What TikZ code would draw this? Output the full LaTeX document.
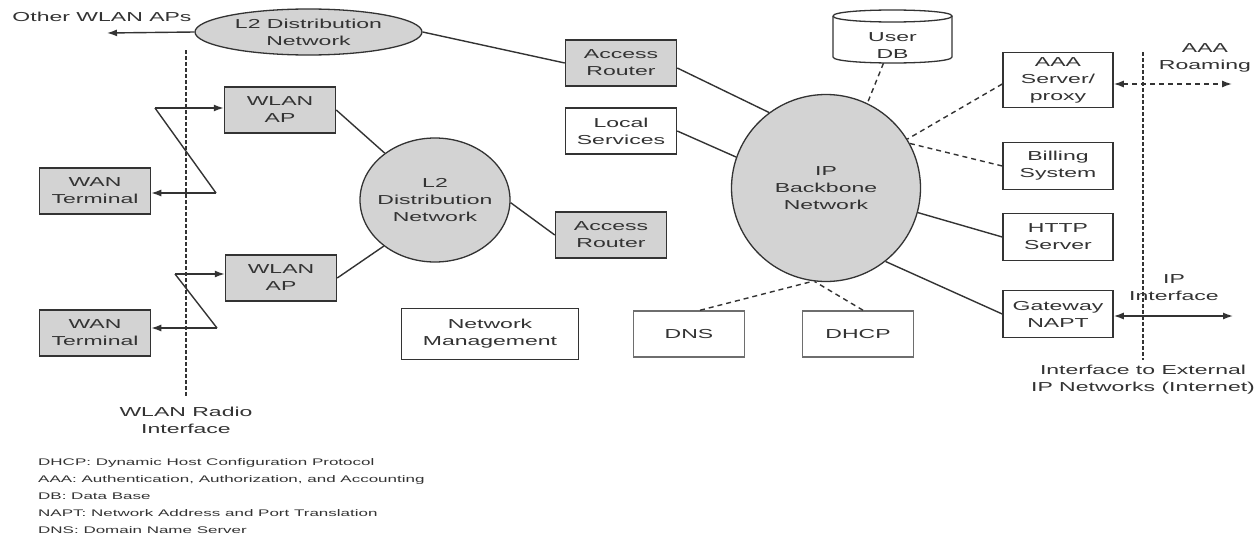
\documentclass[tikz,border=0pt]{standalone}
\usepackage{fontspec}
\setmainfont{Liberation Sans}[FakeStretch=1.77]
\usetikzlibrary{arrows.meta,calc,shapes.geometric}

\definecolor{ink}{HTML}{333333}
\definecolor{shade}{HTML}{D3D3D3}
\definecolor{softedge}{HTML}{6E6E6E}

\begin{document}
\begin{tikzpicture}[x=1pt,y=-1pt,
  every node/.style={text=ink, font=\fontsize{13}{17}\selectfont, align=center, inner sep=0pt},
  box/.style={draw=ink, line width=1.5pt, minimum width=111pt, minimum height=46pt},
  gbox/.style={box, fill=shade},
  lbox/.style={box, draw=softedge},
  cloud/.style={ellipse, draw=ink, line width=1.3pt, fill=shade},
  link/.style={draw=ink, line width=1.4pt},
  dlink/.style={link, dash pattern=on 5pt off 4pt},
  border/.style={draw=ink, line width=1.6pt, dash pattern=on 4pt off 2pt},
  tip/.style={-{Latex[length=10pt,width=7pt]}},
  tips/.style={{Latex[length=10pt,width=7pt]}-{Latex[length=10pt,width=7pt]}},
  caption/.style={font=\fontsize{13}{17}\selectfont},
  legend/.style={font=\fontsize{9.6}{17}\selectfont, align=left, anchor=north west}
]
\useasboundingbox (0,0) rectangle (1255,554);
\fill[white] (0,0) rectangle (1255,554);

% ---------- WLAN side ----------
\node[cloud, minimum width=227pt, minimum height=46pt,
      label={[align=center]center:L2 Distribution\\Network}] (l2top) at (308.5,32) {};
\node[caption] (otherlbl) at (102,17) {Other WLAN APs};
\coordinate (otherend) at (107,33);
\draw[link, tip] (l2top.west) -- (otherend);

\node[gbox] (ap1) at (280,110) {WLAN\\AP};
\node[gbox] (ap2) at (281,278) {WLAN\\AP};
\node[gbox] (wan1) at (95,191) {WAN\\Terminal};
\node[gbox] (wan2) at (95,333) {WAN\\Terminal};

% radio interface boundary
\coordinate (rtop) at (186,50);
\coordinate (rbot) at (186,397);
\draw[border] (rtop) -- (rbot);
\node[caption] (rlbl) at (186,420) {WLAN Radio\\Interface};

% radio links (zig-zag)
\coordinate (za) at (155,108);
\coordinate (zb) at (216,193);
\draw[link, tip] (za) -- (za -| ap1.west);
\draw[link] (za) -- (zb);
\draw[link, tip] (zb) -- (zb -| wan1.east);

\coordinate (zc) at (175,274);
\coordinate (zd) at (217,328);
\draw[link, tip] (zc) -- (zc -| ap2.west);
\draw[link] (zc) -- (zd);
\draw[link, tip] (zd) -- (zd -| wan2.east);

\node[cloud, minimum width=150pt, minimum height=124pt,
      label={[align=center]center:L2\\Distribution\\Network}] (l2mid) at (435,200) {};
\node[gbox] (ar2) at (611,235) {Access\\Router};
\draw[link] (ap1.east) -- (l2mid.137);
\draw[link] (ap2.east) -- (l2mid.-138);
\draw[link] (l2mid.-2) -- (ar2.west);

\node[box, minimum width=177pt, minimum height=51pt] (nm) at (490,334) {Network\\Management};

% ---------- IP backbone ----------
\node[cloud, minimum width=189pt, minimum height=187pt,
      label={[align=center]center:IP\\Backbone\\Network}] (ipbb) at (826,188) {};

\node[gbox] (ar1) at (621,63) {Access\\Router};
\node[box] (ls) at (621,131) {Local\\Services};
\draw[link] (l2top.east) -- (ar1.west);
\draw[link] ($(ar1.east)+(0,5)$) -- (ipbb.127);
\draw[link] (ls.east) -- (ipbb.161);

% user database cylinder
\draw[draw=ink, line width=1.3pt, fill=white]
  (833,16) -- (833,57) .. controls (833,65) and (952,65) .. (952,57) -- (952,16);
\draw[draw=ink, line width=1.3pt, fill=white]
  (833,16) .. controls (833,8) and (952,8) .. (952,16)
           .. controls (952,24) and (833,24) .. (833,16);
\node[minimum width=119pt, minimum height=53pt] (userdb) at (892.5,36.5) {};
\node (userlbl) at (892.5,46) {User\\DB};
\draw[dlink] ($(userdb.south)+(-9,0)$) -- (ipbb.64);

\node[lbox] (dns) at (689,334) {DNS};
\node[lbox] (dhcp) at (858,334) {DHCP};
\draw[dlink] ($(dns.north)+(11,0)$) -- (ipbb.-98);
\draw[dlink] ($(dhcp.north)+(5,0)$) -- (ipbb.-97);

\node[box, minimum width=110pt, minimum height=55pt] (aaa) at (1058,80) {AAA\\Server/\\proxy};
\node[box, minimum width=110pt, minimum height=47pt] (bill) at (1058,166) {Billing\\System};
\node[box, minimum width=110pt, minimum height=47pt] (http) at (1058,237) {HTTP\\Server};
\node[box, minimum width=110pt, minimum height=47pt] (gw) at (1058,314) {Gateway\\NAPT};

\draw[dlink] ($(aaa.west)+(0,4)$) -- (ipbb.31);
\draw[dlink] (bill.west) -- (ipbb.28);
\draw[link] (http.west) -- (ipbb.-15);
\draw[link] (gw.west) -- (ipbb.-51);

% external interface boundary
\coordinate (etop) at (1143,52);
\coordinate (ebot) at (1143,360);
\draw[border] (etop) -- (ebot);
\node[caption] (extlbl) at (1143,380) {Interface to External\\IP Networks (Internet)};

\coordinate (roamend) at (1232,84);
\draw[dlink, tips] ($(aaa.east)+(0,4)$) -- (roamend);
\node[caption] (roamlbl) at (1205,58) {AAA\\Roaming};

\coordinate (ipend) at (1233,316);
\draw[link, tips] ($(gw.east)+(0,2)$) -- (ipend);
\node[caption] (iplbl) at (1174,288) {IP\\Interface};

% ---------- abbreviations ----------
\node[legend] (abbr) at (38,458) {%
DHCP: Dynamic Host Configuration Protocol\\
AAA: Authentication, Authorization, and Accounting\\
DB: Data Base\\
NAPT: Network Address and Port Translation\\
DNS: Domain Name Server};
\end{tikzpicture}
\end{document}
